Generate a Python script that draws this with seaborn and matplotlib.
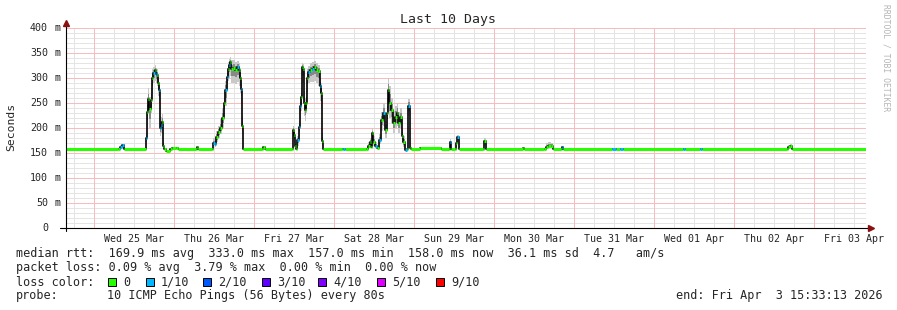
import numpy as np
import pandas as pd
import matplotlib
matplotlib.use("Agg")
import matplotlib.pyplot as plt
import seaborn as sns
from matplotlib.lines import Line2D
from matplotlib.patches import Rectangle
from matplotlib.transforms import blended_transform_factory

# ---------------- data ----------------
start = pd.Timestamp("2026-03-24 15:33:13")
end = pd.Timestamp("2026-04-03 15:33:13")

hours = [0.0, 15.6, 16.2, 16.8, 17.4, 24.0, 24.3, 24.6, 24.9, 25.5, 25.8, 26.1, 26.7, 27.0, 27.3, 27.6,
         27.9, 28.2, 28.5, 28.8, 29.1, 29.4, 30.0, 31.2, 31.8, 33.0, 33.6, 39.0, 39.3, 39.6,
         43.8, 44.1, 44.7, 45.0, 45.6, 46.2, 46.8, 47.4, 47.7, 48.3, 48.6, 48.9, 49.2, 49.5, 50.1,
         50.7, 51.3, 51.9, 52.2, 52.5, 52.8, 53.1, 58.8, 59.1, 59.7,
         67.8, 68.1, 68.4, 68.7, 69.0, 69.3, 69.9, 70.2, 70.5, 70.8, 71.1, 71.4, 71.7, 72.0, 72.3,
         72.6, 73.2, 73.8, 74.4, 75.0, 75.6, 76.2, 76.5, 76.8, 77.1, 82.8, 83.1, 83.7,
         90.0, 90.6, 91.2, 91.5, 91.8, 92.1, 92.7, 93.3, 93.9, 94.5, 95.1, 95.7, 96.3, 96.6, 96.9,
         97.5, 98.1, 98.7, 99.3, 99.6, 100.2, 100.8, 101.1, 101.7, 102.3, 102.6, 103.2, 103.5,
         106.2, 112.5, 114.9, 115.2, 115.5, 116.7, 117.0, 117.3, 117.9, 125.1, 125.4, 126.0,
         137.1, 137.4, 143.4, 144.0, 144.6, 145.5, 146.1, 148.5, 148.8, 149.1,
         163.8, 165.0, 166.2, 167.1, 185.1, 185.7, 190.2, 190.8,
         216.3, 216.6, 217.2, 217.8, 240.0]

median_ms = [158, 158, 163, 166, 158, 180, 232, 258, 238, 256, 300, 310, 316, 308, 306, 290,
             276, 200, 206, 212, 165, 158, 155, 158, 161, 161, 158, 158, 162, 158,
             158, 170, 168, 182, 192, 200, 220, 250, 276, 302, 318, 326, 332, 318, 320,
             316, 322, 316, 300, 278, 204, 158, 158, 163, 158,
             158, 196, 186, 165, 158, 176, 202, 245, 262, 322, 318, 250, 236, 250, 300,
             312, 316, 318, 322, 316, 314, 284, 270, 174, 158, 158, 159, 158,
             158, 165, 172, 162, 190, 172, 165, 160, 176, 216, 230, 196, 230, 276, 250,
             236, 210, 222, 230, 210, 222, 185, 172, 156, 158, 245, 160, 158,
             160, 158, 158, 172, 158, 158, 170, 182, 158, 158, 174, 158,
             160, 158, 158, 163, 165, 165, 158, 158, 162, 158,
             158, 158, 158, 158, 158, 158, 158, 158,
             158, 162, 165, 158, 158]

loss = [0, 0, 1, 1, 0, 1, 0, 0, 0, 0, 0, 1, 0, 1, 0, 0,
        1, 1, 1, 0, 0, 0, 0, 0, 0, 0, 0, 0, 0, 0,
        0, 1, 1, 0, 0, 0, 0, 0, 1, 1, 0, 1, 0, 0, 0,
        0, 1, 0, 0, 1, 0, 0, 0, 0, 0,
        0, 0, 0, 0, 0, 1, 1, 1, 0, 0, 0, 0, 0, 0, 0,
        1, 0, 1, 0, 0, 0, 1, 0, 0, 0, 0, 1, 0,
        0, 0, 0, 0, 0, 0, 1, 0, 1, 0, 1, 0, 0, 0, 0,
        0, 0, 0, 0, 0, 0, 0, 0, 1, 0, 1, 0, 0,
        0, 0, 0, 1, 0, 0, 0, 1, 0, 0, 0, 0,
        0, 0, 0, 0, 0, 0, 0, 0, 1, 0,
        1, 0, 1, 0, 1, 0, 1, 0,
        0, 0, 0, 0, 0]

smoke_lo = [158, 158, 160, 162, 158, 172, 200, 230, 200, 230, 270, 290, 295, 290, 285, 265,
            250, 185, 190, 190, 160, 158, 155, 158, 161, 161, 158, 158, 162, 158,
            158, 165, 162, 172, 180, 188, 200, 225, 245, 280, 295, 300, 305, 290, 290,
            288, 292, 285, 270, 250, 190, 158, 158, 163, 158,
            158, 180, 170, 162, 158, 165, 185, 220, 235, 290, 290, 225, 215, 230, 275,
            290, 292, 293, 295, 290, 285, 255, 240, 165, 158, 158, 159, 158,
            158, 160, 165, 160, 175, 165, 160, 158, 168, 195, 205, 180, 205, 240, 220,
            210, 190, 200, 205, 190, 200, 170, 162, 156, 158, 225, 158, 158,
            160, 158, 158, 165, 158, 158, 165, 172, 158, 158, 165, 158,
            160, 158, 158, 160, 160, 160, 158, 158, 160, 158,
            158, 158, 158, 158, 158, 158, 158, 158,
            158, 158, 160, 158, 158]

smoke_hi = [158, 158, 166, 168, 158, 190, 262, 280, 262, 280, 318, 322, 326, 320, 318, 305,
            290, 225, 222, 228, 175, 158, 155, 158, 161, 161, 158, 158, 162, 158,
            158, 180, 180, 195, 205, 218, 240, 272, 295, 320, 332, 338, 342, 336, 336,
            332, 334, 330, 320, 300, 225, 158, 158, 163, 158,
            158, 205, 200, 170, 158, 185, 215, 260, 280, 330, 328, 275, 260, 275, 318,
            325, 330, 332, 334, 330, 326, 300, 290, 190, 158, 158, 159, 158,
            158, 172, 180, 166, 200, 185, 172, 162, 188, 232, 250, 215, 260, 300, 285,
            260, 235, 245, 250, 232, 240, 200, 185, 158, 158, 258, 165, 158,
            160, 158, 158, 178, 158, 158, 175, 186, 158, 158, 180, 158,
            160, 158, 158, 170, 172, 170, 158, 158, 164, 158,
            158, 158, 158, 158, 158, 158, 158, 158,
            158, 166, 168, 158, 158]

loss_labels = ["0", "1/10", "2/10", "3/10", "4/10", "5/10", "9/10"]
loss_colors = ["#26ff00", "#00b8ff", "#0059ff", "#5e00ff", "#7e00ff", "#dd00ff", "#ff0000"]

y_ticks = [0, 50, 100, 150, 200, 250, 300, 350, 400]

stats_rtt = "median rtt:  169.9 ms avg  333.0 ms max  157.0 ms min  158.0 ms now  36.1 ms sd  4.7   am/s"
stats_loss = "packet loss: 0.09 % avg  3.79 % max  0.00 % min  0.00 % now"
probe_text = "10 ICMP Echo Pings (56 Bytes) every 80s"
end_text = "end: Fri Apr  3 15:33:13 2026"
title = "Last 10 Days"

df = pd.DataFrame({
    "time": start + pd.to_timedelta(hours, unit="h"),
    "median": median_ms,
    "loss": loss,
    "lo": smoke_lo,
    "hi": smoke_hi,
})

# ---------------- style ----------------
sns.set_style("white")
plt.rcParams["font.family"] = ["DejaVu Sans Mono"]

W, H = 897, 310
fig = plt.figure(figsize=(W / 100, H / 100), dpi=100)
fig.patch.set_facecolor("white")


def fx(px):
    return px / W


def fy(py):
    return 1 - py / H


ax = fig.add_axes([fx(66), fy(228), 800 / W, 200 / H])
ax.set_facecolor("white")
ax.set_xlim(start, end)
ax.set_ylim(0, 400)
for s in ax.spines.values():
    s.set_visible(False)

minor_col = "#e4e4e4"
major_col = "#f8bcbc"
# grid (dotted look approximated by light 1px lines)
for v in range(10, 401, 10):
    if v % 50:
        ax.axhline(v, color=minor_col, lw=0.72, zorder=0, antialiased=False)
for v in y_ticks[1:]:
    ax.axhline(v, color=major_col, lw=0.72, zorder=0.5, antialiased=False)
for t in pd.date_range("2026-03-24 18:00", end, freq="6h"):
    if t.hour == 0:
        ax.axvline(t, color=major_col, lw=0.72, zorder=0.5, antialiased=False)
    else:
        ax.axvline(t, color=minor_col, lw=0.72, zorder=0, antialiased=False)

# smoke
ax.fill_between(df["time"], df["lo"], df["hi"], step="post", color="#c8c8c8", lw=0, zorder=1)
inner_lo = df["median"] - 0.5 * (df["median"] - df["lo"])
inner_hi = df["median"] + 0.5 * (df["hi"] - df["median"])
ax.fill_between(df["time"], inner_lo, inner_hi, step="post", color="#888888", lw=0, zorder=1.5)

# median line
sns.lineplot(data=df, x="time", y="median", drawstyle="steps-post", color="black", lw=1.2,
             estimator=None, sort=False, ax=ax, zorder=2)

# loss-colored median segments
nxt = df["time"].shift(-1)
for lvl, col in enumerate(loss_colors):
    m = (df["loss"] == lvl) & nxt.notna()
    if m.any():
        ax.hlines(df.loc[m, "median"], df.loc[m, "time"], nxt[m], color=col, lw=2.2,
                  zorder=3, capstyle="butt")

ax.set_xlabel("")
ax.set_ylabel("")

# x ticks at noon
noons = pd.date_range("2026-03-25 12:00", periods=10, freq="D")
ax.set_xticks(noons)
ax.set_xticklabels([d.strftime("%a %d %b") for d in noons], fontsize=7.2)
ax.tick_params(axis="x", length=0, pad=4)
ax.set_yticks([])
ax.tick_params(axis="y", length=0, labelleft=False)

# y tick labels
tr = blended_transform_factory(fig.transFigure, ax.transData)
for v in y_ticks:
    ax.text(fx(48), v, f"{v}", transform=tr, ha="right", va="center", fontsize=7.2, clip_on=False)
    if v:
        ax.text(fx(54), v, "m", transform=tr, ha="left", va="center", fontsize=7.2, clip_on=False)

# axis lines & arrows
fig.add_artist(Line2D([fx(60), fx(870)], [fy(228), fy(228)], color="black", lw=0.8))
fig.add_artist(Line2D([fx(66), fx(66)], [fy(231), fy(24)], color="black", lw=0.8))
fig.add_artist(Line2D([fx(871)], [fy(228)], marker=">", color="#8b1010", markersize=4, lw=0))
fig.add_artist(Line2D([fx(66)], [fy(23)], marker="^", color="#8b1010", markersize=4, lw=0))

# texts
fig.text(fx(448), fy(19), title, ha="center", va="center", fontsize=9.5)
fig.text(fx(11), fy(127), "Seconds", rotation=90, ha="center", va="center", fontsize=8.2)
fig.text(fx(886), fy(4), "RRDTOOL / TOBI OETIKER", rotation=270, ha="center", va="top",
         fontsize=5.8, color="#b4b4b4")

fs = 8.5
fig.text(fx(16), fy(254), stats_rtt, ha="left", va="center", fontsize=fs)
fig.text(fx(16), fy(268), stats_loss, ha="left", va="center", fontsize=fs)
fig.text(fx(16), fy(282), "loss color:", ha="left", va="center", fontsize=fs)
box_left = [108, 146, 203, 262, 318, 377, 436]
for bx, lab, col in zip(box_left, loss_labels, loss_colors):
    fig.add_artist(Rectangle((fx(bx), fy(286)), 8 / W, 8 / H, facecolor=col,
                             edgecolor="black", lw=0.7, transform=fig.transFigure))
    fig.text(fx(bx + 15), fy(282), lab, ha="left", va="center", fontsize=fs)
fig.text(fx(16), fy(296), "probe:", ha="left", va="center", fontsize=fs)
fig.text(fx(107), fy(296), probe_text, ha="left", va="center", fontsize=fs)
fig.text(fx(883), fy(296), end_text, ha="right", va="center", fontsize=fs)

fig.savefig("out.png", dpi=100)
